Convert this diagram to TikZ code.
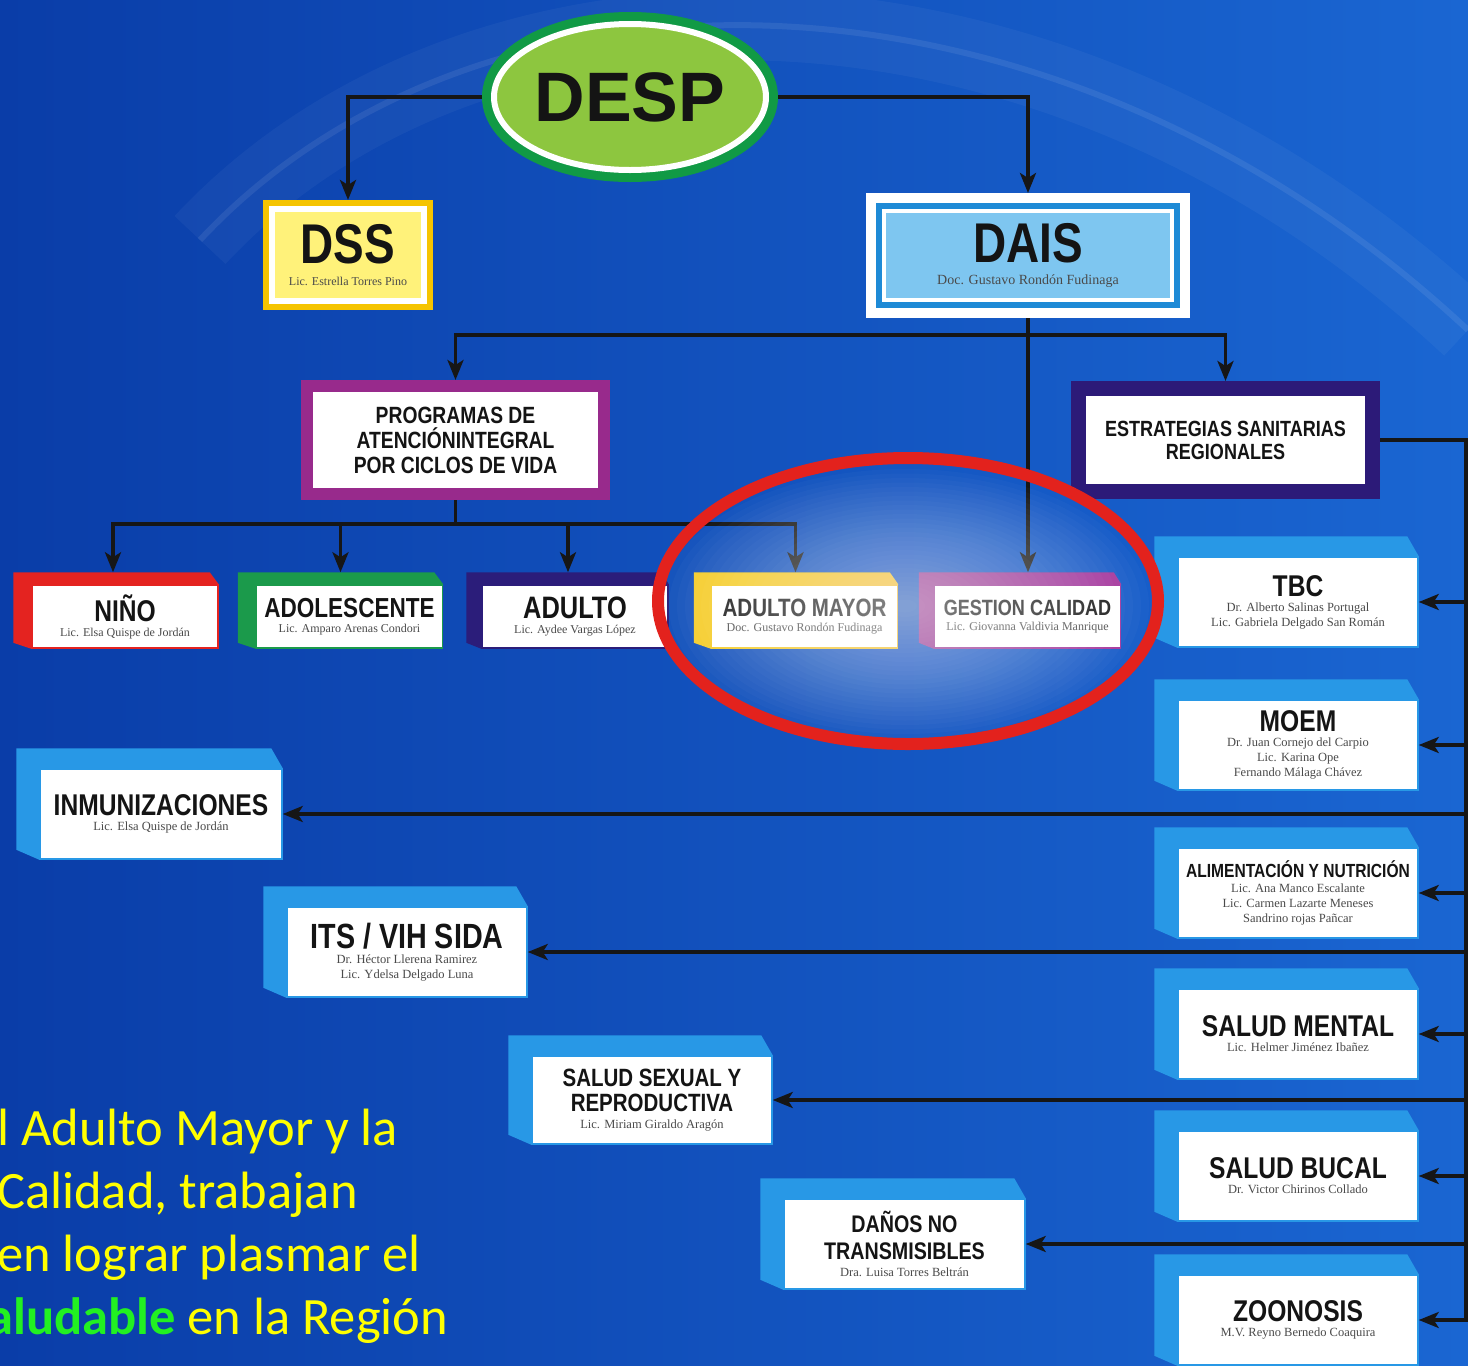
\documentclass[tikz,border=0pt]{standalone}
\usepackage{fontspec}
\setmainfont{Liberation Sans}
\newfontfamily\despfont{Liberation Sans Bold}
\newfontfamily\ttlfont[FakeStretch=0.82]{Liberation Sans Bold}
\newfontfamily\nmfont{Liberation Serif}
\newfontfamily\capfont{Carlito}
\usetikzlibrary{arrows.meta, shapes.geometric}

\definecolor{bgLeft}{HTML}{0A3DA8}
\definecolor{bgRight}{HTML}{1A66D2}
\definecolor{despLime}{HTML}{8DC63F}
\definecolor{despRing}{HTML}{119A45}
\definecolor{dssGold}{HTML}{F5C400}
\definecolor{dssFill}{HTML}{FFF27A}
\definecolor{daisBlue}{HTML}{1E8AD6}
\definecolor{daisFill}{HTML}{7EC6F0}
\definecolor{progPurple}{HTML}{982A8C}
\definecolor{estNavy}{HTML}{2C1A78}
\definecolor{ninoRed}{HTML}{E42320}
\definecolor{adolGreen}{HTML}{1B9A4B}
\definecolor{adultNavy}{HTML}{2B1D7A}
\definecolor{mayorYellow}{HTML}{F6CB25}
\definecolor{gestMagenta}{HTML}{A3349B}
\definecolor{stratBlue}{HTML}{2898E6}
\definecolor{ringRed}{HTML}{E3221D}
\definecolor{lineBlack}{HTML}{161616}
\definecolor{titleBlack}{HTML}{141414}
\definecolor{nameGray}{HTML}{4A4A4A}
\definecolor{capYellow}{HTML}{FFFF00}
\definecolor{capGreen}{HTML}{22F022}

\newcommand{\ttl}[2]{{\ttlfont\fontsize{#1}{#1}\selectfont #2}}
\newcommand{\nm}[1]{{\color{nameGray}#1}}
\newcommand{\extrude}[4]{%
  \fill[#2] (#1.south west) -- ++(-#3,-#4/2) -- ([shift={(-#3,-#4)}]#1.north west)
    -- ([shift={(-#3/2,-#4)}]#1.north east) -- (#1.north east) -- (#1.north west) -- cycle;}

\begin{document}
\begin{tikzpicture}[x=1pt, y=-1pt,
    link/.style={draw=lineBlack, line width=3.5pt},
    conn/.style={link, -{Stealth[length=20pt, width=16pt, inset=5pt]}},
    desp/.style={ellipse, minimum width=272pt, minimum height=146pt, inner sep=0pt, outer sep=12pt,
        fill=despLime, draw=white, line width=6pt, preaction={draw=despRing, line width=24pt},
        font=\despfont\fontsize{70}{70}\selectfont, text=titleBlack},
    dss/.style={rectangle, minimum width=152pt, minimum height=92pt, inner sep=0pt, outer sep=9pt,
        fill=dssFill, draw=white, line width=6pt, preaction={draw=dssGold, line width=18pt},
        align=center, text=titleBlack, font=\nmfont\fontsize{12}{15}\selectfont},
    dais/.style={rectangle, minimum width=288pt, minimum height=89pt, inner sep=0pt, outer sep=18pt,
        fill=daisFill, draw=white, line width=4pt, preaction={draw=white, line width=36pt},
        preaction={draw=daisBlue, line width=16pt},
        align=center, text=titleBlack, font=\nmfont\fontsize{14}{17}\selectfont},
    boxframe/.style={rectangle, inner sep=0pt, fill=white, draw=#1, align=center, text=titleBlack},
    prog/.style={boxframe=progPurple, minimum width=297pt, minimum height=108pt, line width=12pt,
        outer sep=6pt, font=\ttlfont\fontsize{23.5}{25}\selectfont},
    est/.style={boxframe=estNavy, minimum width=294pt, minimum height=103pt, line width=15pt,
        outer sep=7.5pt, font=\ttlfont\fontsize{22}{23}\selectfont},
    lvl/.style={boxframe=#1, minimum width=186pt, minimum height=63pt, line width=1.5pt,
        font=\nmfont\fontsize{12}{15}\selectfont},
    strat/.style={boxframe=stratBlue, minimum width=240pt, minimum height=90pt, line width=1.5pt,
        font=\nmfont\fontsize{12.5}{15}\selectfont},
    caption/.style={anchor=base west, inner sep=0pt, text=capYellow, font=\capfont\fontsize{52.5}{60}\selectfont},
]
\useasboundingbox (0,0) rectangle (1468,1366);
\clip (0,0) rectangle (1468,1366);
\shade[left color=bgLeft, right color=bgRight] (0,0) rectangle (1468,1366);
\draw[white, opacity=.04, line width=70pt] (200,240) .. controls (480,-60) and (1050,-60) .. (1468,330);
\draw[white, opacity=.08, line width=6pt] (200,240) .. controls (480,-60) and (1050,-60) .. (1468,330);

\node[desp] (desp) at (630,97)       {DESP};
\node[dss]  (dss)  at (348,255)      {\ttl{56}{DSS}\\[7pt]\nm{Lic. Estrella Torres Pino}};
\node[dais] (dais) at (1028,255.5)   {\ttl{56}{DAIS}\\[5pt]\nm{Doc. Gustavo Rondón Fudinaga}};
\node[prog] (prog) at (455.5,440)    {PROGRAMAS DE\\ATENCIÓNINTEGRAL\\POR CICLOS DE VIDA};
\node[est]  (est)  at (1225.5,440)   {ESTRATEGIAS SANITARIAS\\REGIONALES};

\node[lvl=ninoRed]     (nino)   at (125,616.5)    {\ttl{30}{NIÑO}\\\nm{Lic. Elsa Quispe de Jordán}};
\node[lvl=adolGreen]   (adol)   at (349.5,616.5)  {\ttl{27.5}{ADOLESCENTE}\\\nm{Lic. Amparo Arenas Condori}};
\node[lvl=adultNavy]   (adulto) at (575,616.5)    {\ttl{31}{ADULTO}\\\nm{Lic. Aydee Vargas López}};
\node[lvl=mayorYellow] (mayor)  at (804.5,616.5)  {\ttl{25}{ADULTO MAYOR}\\\nm{Doc. Gustavo Rondón Fudinaga}};
\node[lvl=gestMagenta] (gest)   at (1027.5,616.5) {\ttl{22}{GESTION CALIDAD}\\\nm{Lic. Giovanna Valdivia Manrique}};

\node[strat] (tbc)    at (1298,602)  {\ttl{30}{TBC}\\\nm{Dr. Alberto Salinas Portugal}\\\nm{Lic. Gabriela Delgado San Román}};
\node[strat] (moem)   at (1298,745)  {\ttl{30}{MOEM}\\\nm{Dr. Juan Cornejo del Carpio}\\\nm{Lic. Karina Ope}\\\nm{Fernando Málaga Chávez}};
\node[strat] (alim)   at (1298,893)  {\ttl{19}{ALIMENTACIÓN Y NUTRICIÓN}\\\nm{Lic. Ana Manco Escalante}\\\nm{Lic. Carmen Lazarte Meneses}\\\nm{Sandrino rojas Pañcar}};
\node[strat] (mental) at (1298,1034) {\ttl{30}{SALUD MENTAL}\\\nm{Lic. Helmer Jiménez Ibañez}};
\node[strat] (bucal)  at (1298,1176) {\ttl{30}{SALUD BUCAL}\\\nm{Dr. Victor Chirinos Collado}};
\node[strat] (zoo)    at (1298,1320) {\ttl{30}{ZOONOSIS}\\\nm{M.V. Reyno Bernedo Coaquira}};
\node[strat, minimum width=242pt] (inmun) at (161,814) {\ttl{30}{INMUNIZACIONES}\\\nm{Lic. Elsa Quispe de Jordán}};
\node[strat] (its)    at (407,952)   {\ttl{35}{ITS / VIH SIDA}\\\nm{Dr. Héctor Llerena Ramirez}\\\nm{Lic. Ydelsa Delgado Luna}};
\node[strat, minimum height=88pt] (ssr) at (652,1100) {\ttl{25}{SALUD SEXUAL Y}\\[6pt]\ttl{25}{REPRODUCTIVA}\\[2pt]\nm{Lic. Miriam Giraldo Aragón}};
\node[strat, minimum width=241pt] (dnt) at (904.5,1244) {\ttl{24}{DAÑOS NO}\\[9pt]\ttl{24}{TRANSMISIBLES}\\[2pt]\nm{Dra. Luisa Torres Beltrán}};

\extrude{nino}{ninoRed}{18}{12}
\extrude{adol}{adolGreen}{18}{12}
\extrude{adulto}{adultNavy}{15}{12}
\extrude{mayor}{mayorYellow}{17}{12}
\extrude{gest}{gestMagenta}{15}{12}
\foreach \n in {tbc, moem, alim, mental, bucal, zoo, inmun, its, ssr, dnt}
  {\extrude{\n}{stratBlue}{23}{20}}

\draw[conn] (desp.west) -| (dss.north);
\draw[conn] (desp.east) -| (dais.north);
\draw[link] (dais.south) -- ++(0,17) coordinate (daisjoint);
\draw[conn] (daisjoint) -| (prog.north);
\draw[conn] (daisjoint) -| (est.north);
\draw[conn, shorten >=12pt] (dais.south) -- (dais.south |- gest.north);
\draw[link] (prog.south) -- ++(0,24) coordinate (progjoint);
\draw[conn, shorten >=12pt] (progjoint) -| ([xshift=-9pt]mayor.north);
\draw[conn, shorten >=12pt] (progjoint) -| ([xshift=-12pt]nino.north);
\draw[conn, shorten >=12pt] (progjoint) -| ([xshift=-9pt]adol.north);
\draw[conn, shorten >=12pt] (progjoint) -| ([xshift=-7pt]adulto.north);

\coordinate (trunk) at (1466,440);
\draw[conn] (est.east) -- (trunk) |- (zoo.east);
\foreach \n in {tbc, moem, alim, mental, bucal, inmun, its, ssr, dnt}
  {\draw[conn] (trunk |- \n.east) -- (\n.east);}

\foreach \k in {0,...,29}
  {\fill[white, opacity=.024] (905,606) ellipse [x radius={244pt-8pt*\k}, y radius={137pt-4.5pt*\k}];}
\draw[ringRed, line width=12pt] (908,601) ellipse [x radius=250pt, y radius=143pt];

\node[caption] (cap1) at (-3,1145)  {l Adulto Mayor y la};
\node[caption] (cap2) at (-3,1208)  {Calidad, trabajan};
\node[caption] (cap3) at (-3,1271)  {en lograr plasmar el};
\node[caption] (cap4) at (-13,1334) {\textcolor{capGreen}{\bfseries aludable} en la Región};
\end{tikzpicture}
\end{document}
